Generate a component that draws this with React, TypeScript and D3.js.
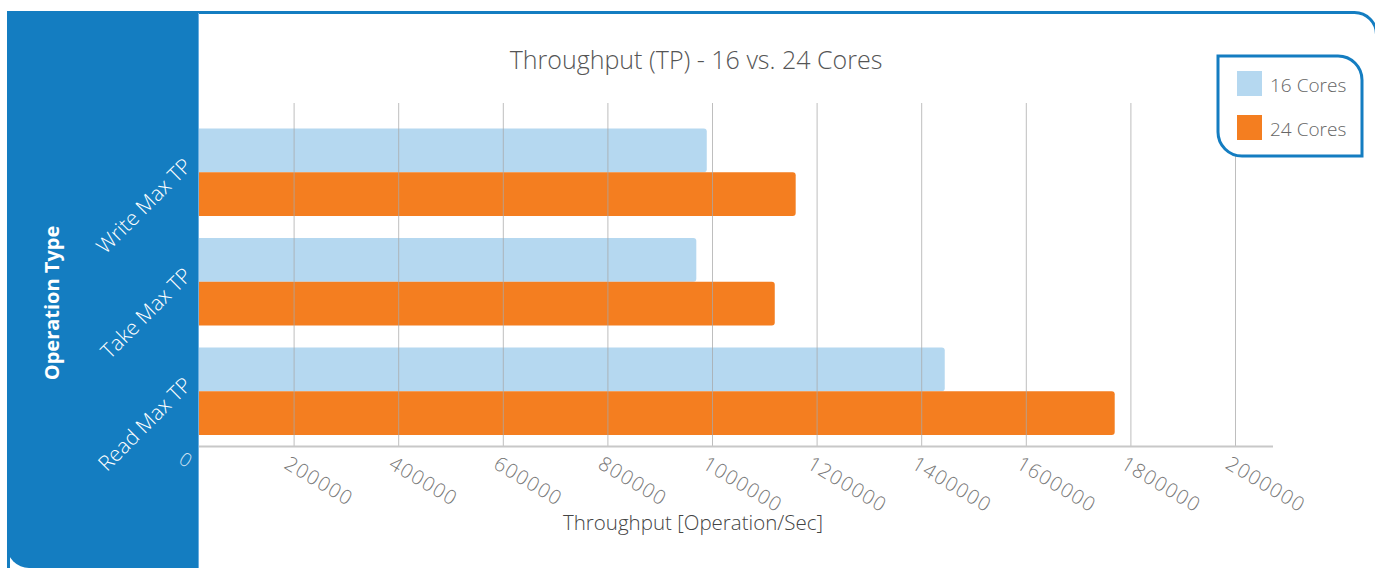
import React from 'react'
import * as d3 from 'd3'

// chart values
const categories = ['Write Max TP', 'Take Max TP', 'Read Max TP']
const seriesNames = ['16 Cores', '24 Cores']
const cores16 = [990000, 970000, 1445000]
const cores24 = [1160000, 1120000, 1770000]
const xTicks = [0, 200000, 400000, 600000, 800000, 1000000, 1200000, 1400000, 1600000, 1800000, 2000000]
const colors = ['#b5d8f0', '#f47e20']

const W = 1375
const H = 568
const FONT = '"Open Sans", sans-serif'

const App = () => {
    const x = d3.scaleLinear().domain([0, 2000000]).range([189, 1235])
    const y = d3.scaleBand().domain(categories).range([117.5, 446]).paddingInner(0.2).paddingOuter(0.1)
    const sub = d3.scaleBand().domain(seriesNames).range([0, y.bandwidth()])
    const axisY = 446
    const series = [cores16, cores24]

    const legendPath = d3.path()
    const lx = 1218, ly = 56, lw = 144, lh = 100, r = 24
    legendPath.moveTo(lx, ly)
    legendPath.lineTo(lx + lw - r, ly)
    legendPath.arcTo(lx + lw, ly, lx + lw, ly + r, r)
    legendPath.lineTo(lx + lw, ly + lh)
    legendPath.lineTo(lx + r, ly + lh)
    legendPath.arcTo(lx, ly + lh, lx, ly + lh - r, r)
    legendPath.closePath()

    return (
        <div style={{ position: 'absolute', left: 0, top: 0 }}>
            <svg width={W} height={H} style={{ display: 'block', fontFamily: FONT }}>
                <rect x={0} y={0} width={W} height={H} fill="#fff" />
                {/* outer frame, right edge runs off the picture */}
                <rect x={8.5} y={12.5} width={1368} height={H + 40} rx={22} fill="none" stroke="#147dc1" strokeWidth={3} />

                {/* bars */}
                {categories.map((c, i) => (
                    <g key={c}>
                        {series.map((s, j) => (
                            <rect key={j}
                                x={x(0)}
                                y={(y(c) as number) + (sub(seriesNames[j]) as number)}
                                width={x(s[i]) - x(0)}
                                height={sub.bandwidth()}
                                rx={3}
                                fill={colors[j]} />
                        ))}
                    </g>
                ))}

                {/* grid lines */}
                {xTicks.slice(1).map(t => (
                    <line key={t} x1={x(t) + 0.5} x2={x(t) + 0.5} y1={103} y2={axisY} stroke="#a8a8a8" strokeOpacity={0.75} strokeWidth={1} />
                ))}
                <line x1={189} x2={1273} y1={axisY + 0.5} y2={axisY + 0.5} stroke="#c8c8c8" strokeWidth={2} />

                {/* tick labels */}
                {xTicks.slice(1).map(t => (
                    <text key={t}
                        transform={`translate(${x(t) - 2},${axisY + 7}) rotate(31)`}
                        fontSize={20} fontWeight={300} letterSpacing={1.2} fill="#777" dominantBaseline="hanging">{t}</text>
                ))}

                {/* left panel */}
                <path d={`M7,11 L198,11 L198,${H} L29,${H} A22,22 0 0 1 7,${H - 22} Z`} fill="#147dc1" />
                <line x1={198.5} x2={198.5} y1={13} y2={H} stroke="#6aaee0" strokeWidth={1} />
                <text transform={`translate(${x(0) - 3},${axisY + 3}) rotate(32)`} fontSize={19} fontWeight={300} fill="#d0e2f2" dominantBaseline="hanging">{xTicks[0]}</text>

                {/* category labels */}
                {categories.map(c => {
                    const cy = (y(c) as number) + y.bandwidth() / 2 - 5
                    return (
                        <text key={c} transform={`translate(193,${cy}) rotate(-45)`}
                            textAnchor="end" fontSize={21} fontWeight={300} fill="#fff">{c}</text>
                    )
                })}
                <text transform="translate(59,303) rotate(-90)" textAnchor="middle" fontSize={20} fontWeight="bold" fill="#fff">Operation Type</text>

                {/* titles */}
                <text x={696} y={69} textAnchor="middle" fontSize={25} fontWeight={300} fill="#555">Throughput (TP) - 16 vs. 24 Cores</text>
                <text x={693} y={530} textAnchor="middle" fontSize={20.5} fontWeight={300} fill="#444">Throughput [Operation/Sec]</text>

                {/* legend */}
                <path d={legendPath.toString()} fill="#fff" stroke="#147dc1" strokeWidth={3} />
                {seriesNames.map((s, j) => (
                    <g key={s}>
                        <rect x={1237} y={71 + j * 44} width={25} height={25} fill={colors[j]} />
                        <text x={1270} y={92 + j * 44} fontSize={19} fontWeight={300} fill="#666">{s}</text>
                    </g>
                ))}
            </svg>
        </div>
    )
}

export default App
